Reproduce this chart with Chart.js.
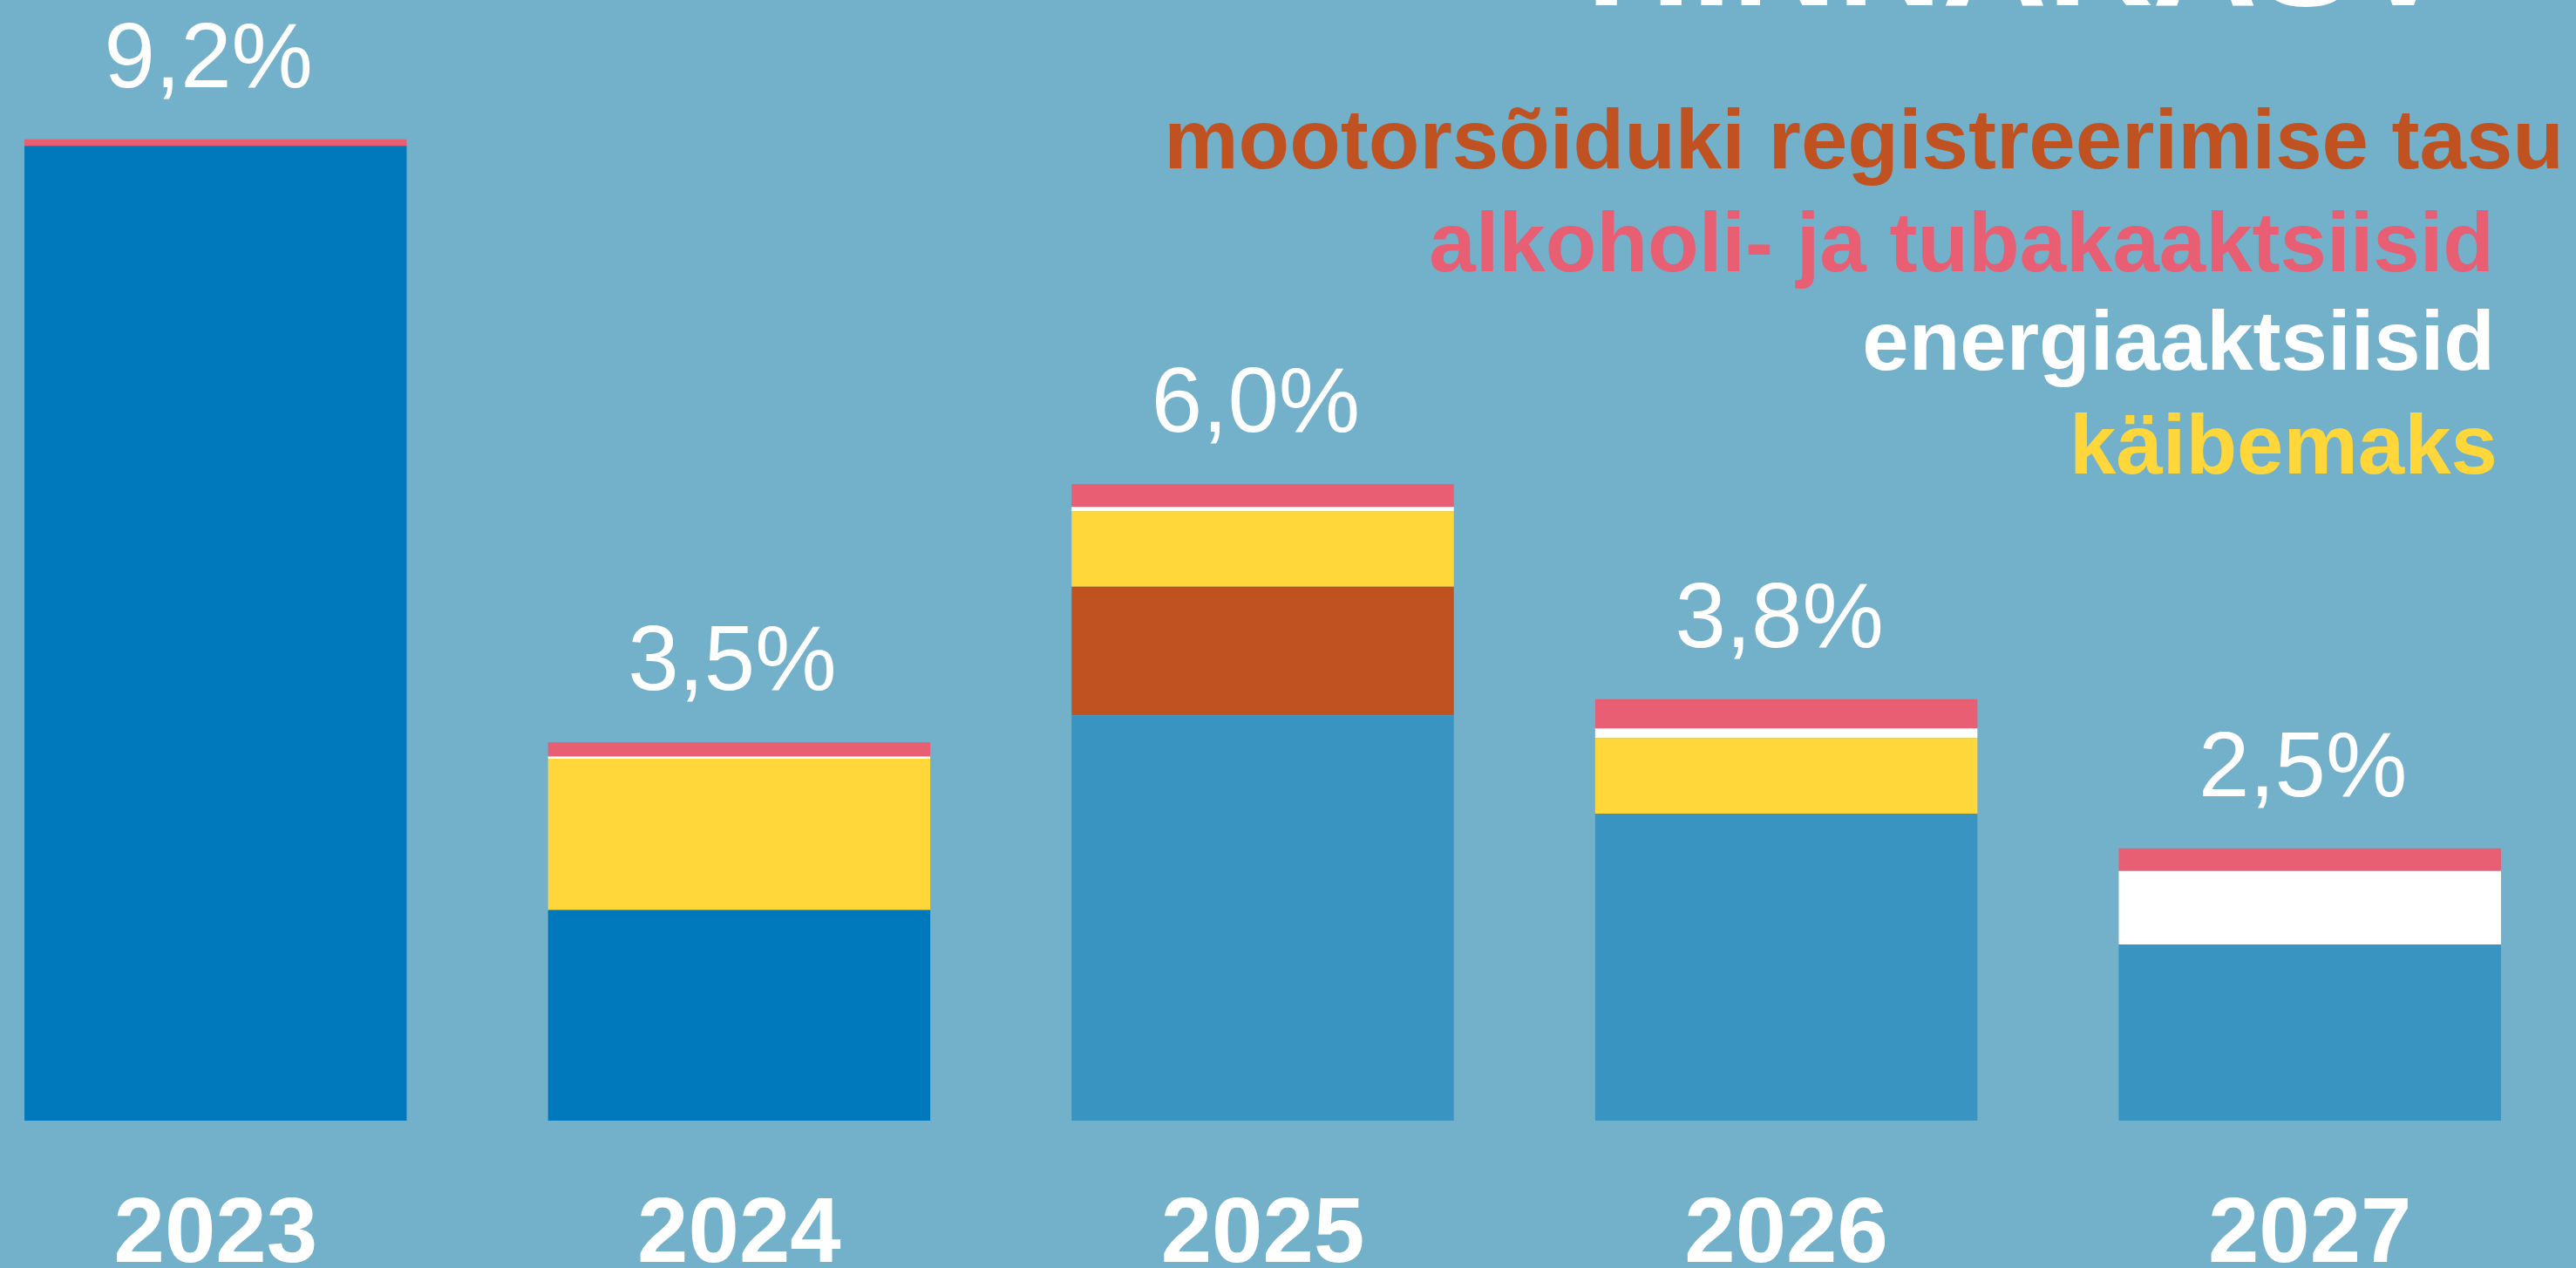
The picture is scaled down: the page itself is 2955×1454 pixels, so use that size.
<!DOCTYPE html>
<html>
<head>
<meta charset="utf-8">
<script src="https://cdn.jsdelivr.net/npm/chart.js@4/dist/chart.umd.min.js"></script>
<style>
  html, body { margin: 0; padding: 0; background: #73B0CA; overflow: hidden; }
  #wrap { position: relative; width: 2955px; height: 1454px; }
</style>
</head>
<body>
<div id="wrap"><canvas id="c"></canvas></div>
<script>
// ---- data (percentage points) ----
const years = ['2023', '2024', '2025', '2026', '2027'];
const totalLabels = ['9,2%', '3,5%', '6,0%', '3,8%', '2,5%'];
const baseInflation = [9.02, 1.95, 3.75, 2.84, 1.63];
const vehicleRegFee = [0, 0, 1.19, 0, 0];
const vat = [0, 1.40, 0.70, 0.70, 0];
const energyExcise = [0, 0.02, 0.04, 0.09, 0.68];
const alcoholTobaccoExcise = [0.06, 0.13, 0.21, 0.27, 0.21];
const seriesNames = [
  'mootorsõiduki registreerimise tasu',
  'alkoholi- ja tubakaaktsiisid',
  'energiaaktsiisid',
  'käibemaks'
];
const titleText = 'HINNAKASV';

// ---- styles ----
const BLUE_DARK = '#0079BC';
const BLUE_LIGHT = '#3A94C2';
const ORANGE = '#C05221';
const PINK = '#E85E73';
const WHITE = '#FFFFFF';
const YELLOW = '#FFD73A';
const FONT = '"Liberation Sans", Arial, Helvetica, sans-serif';

const toPts = arr => arr.map((v, i) => ({ x: i, y: v }));

const datasets = [
  { label: 'baas', data: toPts(baseInflation),
    backgroundColor: years.map((y, i) => i < 2 ? BLUE_DARK : BLUE_LIGHT) },
  { label: seriesNames[0], data: toPts(vehicleRegFee), backgroundColor: ORANGE },
  { label: seriesNames[3], data: toPts(vat), backgroundColor: YELLOW },
  { label: seriesNames[2], data: toPts(energyExcise), backgroundColor: WHITE },
  { label: seriesNames[1], data: toPts(alcoholTobaccoExcise), backgroundColor: PINK }
].map(d => Object.assign(d, { borderWidth: 0, barPercentage: 0.73, categoryPercentage: 1 }));

const legendStyle = [
  { color: ORANGE, right: 2941, base: 193 },
  { color: PINK, right: 2861, base: 311 },
  { color: WHITE, right: 2862, base: 424 },
  { color: YELLOW, right: 2865, base: 543 }
];

const overlay = {
  id: 'overlay',
  afterDatasetsDraw(chart) {
    const ctx = chart.ctx;
    const xs = chart.scales.x, ys = chart.scales.y;
    ctx.save();
    ctx.fillStyle = WHITE;
    ctx.font = 'bold 167px ' + FONT;
    ctx.textAlign = 'center';
    ctx.textBaseline = 'alphabetic';
    ctx.fillText(titleText, 2316, 6);
    ctx.font = 'bold 96px ' + FONT;
    ctx.textAlign = 'right';
    seriesNames.forEach((name, i) => {
      ctx.fillStyle = legendStyle[i].color;
      ctx.fillText(name, legendStyle[i].right, legendStyle[i].base);
    });
    ctx.font = '105px ' + FONT;
    ctx.textAlign = 'center';
    ctx.fillStyle = WHITE;
    years.forEach((y, i) => {
      const total = baseInflation[i] + vehicleRegFee[i] + vat[i] + energyExcise[i] + alcoholTobaccoExcise[i];
      const px = xs.getPixelForValue(i) - 8;
      const py = ys.getPixelForValue(total) - 60;
      ctx.fillText(totalLabels[i], px, py);
    });
    ctx.restore();
  }
};

new Chart(document.getElementById('c'), {
  type: 'bar',
  data: { datasets },
  options: {
    responsive: true,
    maintainAspectRatio: false,
    animation: false,
    layout: { padding: { top: 0, left: 0, right: 0, bottom: -97 } },
    plugins: { legend: { display: false }, tooltip: { enabled: false }, title: { display: false } },
    scales: {
      x: {
        type: 'linear',
        stacked: true,
        offset: false,
        min: -0.4117,
        max: 4.5083,
        grid: { display: false, drawTicks: false, offset: false },
        border: { display: false },
        afterBuildTicks: scale => { scale.ticks = years.map((y, i) => ({ value: i })); },
        ticks: {
          autoSkip: false,
          maxRotation: 0,
          padding: 87,
          color: WHITE,
          font: { family: FONT, size: 105, weight: 'bold', lineHeight: 0.876 },
          callback: v => years[v]
        }
      },
      y: {
        stacked: true,
        display: false,
        min: 0,
        max: 10.37
      }
    }
  },
  plugins: [overlay]
});
</script>
</body>
</html>
